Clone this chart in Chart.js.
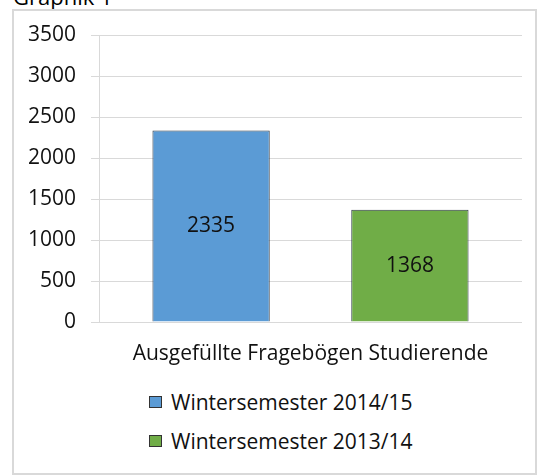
<!DOCTYPE html>
<html lang="de">
<head>
    <meta charset="UTF-8">
    <title>Graphik 1</title>
    <script src="https://cdn.jsdelivr.net/npm/chart.js"></script>
    <style>
        body { margin: 0; width: 537px; height: 476px; position: relative; overflow: hidden; background: #fff; font-family: 'Open Sans', sans-serif; }
        .caption { position: absolute; left: 13px; top: -19px; font-size: 22px; color: #000; white-space: nowrap; }
        .frame { position: absolute; left: 12px; top: 9px; width: 525px; height: 466px; border: 2px solid #d9d9d9; box-sizing: border-box; }
        .chart-box { position: absolute; left: 0; top: 0; width: 537px; height: 380px; }
        #legend { position: absolute; left: 149px; top: 382px; list-style: none; margin: 0; padding: 0; font-size: 21px; color: #111; }
        #legend li { display: flex; align-items: center; height: 39px; }
        #legend .box { width: 11px; height: 10px; border: 1px solid #333; margin-right: 9px; }
    </style>
</head>
<body>
    <div class="caption">Graphik 1</div>
    <div class="frame"></div>
    <div class="chart-box"><canvas id="chart"></canvas></div>
    <ul id="legend"></ul>

    <script>
        // data
        const categories = ['Ausgefüllte Fragebögen Studierende'];
        const semesters = ['Wintersemester 2014/15', 'Wintersemester 2013/14'];
        const ws1415 = [2335];
        const ws1314 = [1368];
        const yMax = 3500;
        const yStep = 500;

        const colors = ['#5b9bd5', '#70ad47'];
        const textColor = '#111';
        const gridColor = '#d9d9d9';
        const fontFamily = '"Open Sans", sans-serif';
        const fontSize = 21;

        // print the value in the middle of each bar
        const barValues = {
            id: 'barValues',
            afterDatasetsDraw(chart) {
                const ctx = chart.ctx;
                ctx.save();
                ctx.font = fontSize + 'px ' + fontFamily;
                ctx.fillStyle = textColor;
                ctx.textAlign = 'center';
                ctx.textBaseline = 'middle';
                chart.data.datasets.forEach((ds, i) => {
                    chart.getDatasetMeta(i).data.forEach((bar, j) => {
                        ctx.fillText(ds.data[j], bar.x, (bar.y + bar.base) / 2);
                    });
                });
                ctx.restore();
            }
        };

        const chart = new Chart(document.getElementById('chart'), {
            type: 'bar',
            data: {
                labels: categories,
                datasets: [
                    { label: semesters[0], data: ws1415, backgroundColor: colors[0] },
                    { label: semesters[1], data: ws1314, backgroundColor: colors[1] }
                ]
            },
            options: {
                responsive: true,
                maintainAspectRatio: false,
                animation: false,
                layout: { padding: { left: 20, right: 15, top: 35, bottom: 0 } },
                datasets: {
                    bar: {
                        categoryPercentage: 0.94,
                        barPercentage: 0.59,
                        borderColor: '#2e3a46',
                        borderWidth: 1
                    }
                },
                plugins: {
                    legend: { display: false },
                    tooltip: { enabled: false }
                },
                scales: {
                    x: {
                        grid: { display: false, drawTicks: false },
                        border: { display: false },
                        ticks: { color: textColor, font: { size: fontSize, family: fontFamily }, padding: 19 },
                        afterFit(scale) { scale.height = 58; }
                    },
                    y: {
                        min: 0,
                        max: yMax,
                        grid: { color: gridColor, tickLength: 8 },
                        border: { display: true, color: gridColor },
                        ticks: {
                            stepSize: yStep,
                            color: textColor,
                            font: { size: fontSize, family: fontFamily },
                            padding: 15,
                            callback: v => String(v)
                        },
                        afterFit(scale) { scale.width = 79; }
                    }
                }
            },
            plugins: [barValues]
        });

        // legend listed one entry per line, as in the original
        const legend = document.getElementById('legend');
        chart.data.datasets.forEach(ds => {
            const li = document.createElement('li');
            const box = document.createElement('span');
            box.className = 'box';
            box.style.background = ds.backgroundColor;
            li.appendChild(box);
            li.appendChild(document.createTextNode(ds.label));
            legend.appendChild(li);
        });
    </script>
</body>
</html>
